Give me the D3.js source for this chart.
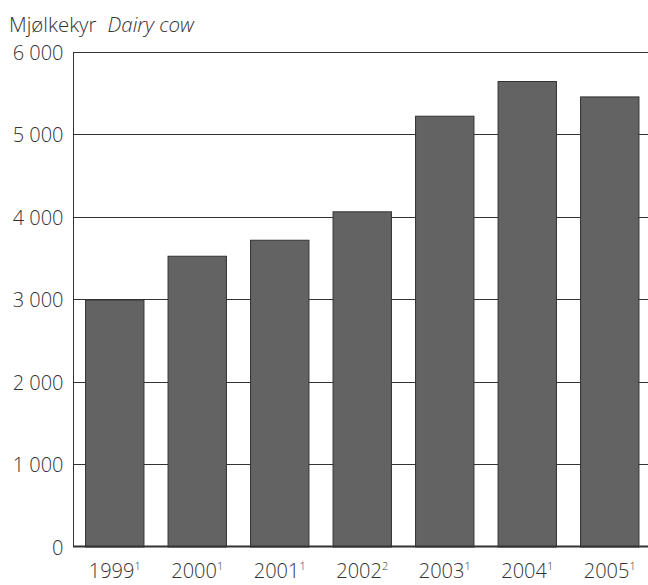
<!DOCTYPE html>
<html><head><meta charset="utf-8">
<script src="https://cdn.jsdelivr.net/npm/d3@7"></script>
<style>body{margin:0;background:#fff}svg{display:block}text{font-family:"Open Sans",sans-serif;fill:#333;font-weight:300}</style>
</head><body><svg id="c" width="648" height="585"></svg>
<script>
const years = ["1999","2000","2001","2002","2003","2004","2005"];
const notes = ["1","1","1","2","1","1","1"];
const values = [2995, 3528, 3722, 4067, 5227, 5648, 5461];
const yTicks = [0,1000,2000,3000,4000,5000,6000];
const titleNo = "Mjølkekyr";
const titleEn = "Dairy cow";

const svg = d3.select("#c");
const pL = 73.5, pR = 651, pT = 52, pB = 546.5;
const x = d3.scaleBand().domain(years).range([pL, pR]).paddingInner(0.28).paddingOuter(0.14);
const y = d3.scaleLinear().domain([0, 6000]).range([pB, pT]);
const fmt = v => d3.format(",")(v).replace(/,/g, " ");

// gridlines
svg.append("g").selectAll("line").data(yTicks.filter(d => d > 0)).join("line")
  .attr("x1", pL).attr("x2", pR)
  .attr("y1", d => Math.round(y(d)) + 0.5).attr("y2", d => Math.round(y(d)) + 0.5)
  .attr("stroke", "#333").attr("stroke-width", 1);

// bars
svg.append("g").selectAll("rect").data(values).join("rect")
  .attr("x", (d, i) => x(years[i]) + 0.5)
  .attr("width", x.bandwidth() - 1)
  .attr("y", d => y(d) + 0.5)
  .attr("height", d => pB - y(d))
  .attr("fill", "#636363").attr("stroke", "#333").attr("stroke-width", 1);

// axes lines
svg.append("line").attr("x1", pL).attr("x2", pL).attr("y1", pT).attr("y2", pB)
  .attr("stroke", "#333").attr("stroke-width", 1);
svg.append("line").attr("x1", pL - 0.5).attr("x2", pR).attr("y1", pB).attr("y2", pB)
  .attr("stroke", "#333").attr("stroke-width", 2);

// y tick labels
svg.append("g").selectAll("text").data(yTicks).join("text")
  .attr("x", pL - 10).attr("y", d => y(d) + 8)
  .attr("text-anchor", "end").attr("font-size", 20)
  .text(d => fmt(d));

// x labels
const xl = svg.append("g").selectAll("text").data(years).join("text")
  .attr("x", d => x(d) + x.bandwidth() / 2).attr("y", 578)
  .attr("text-anchor", "middle").attr("font-size", 20);
xl.append("tspan").text(d => d);
xl.append("tspan").attr("font-size", 11).attr("dy", -8).text((d, i) => notes[i]);

// title
const t = svg.append("text").attr("x", 9).attr("y", 32).attr("font-size", 20.5);
t.append("tspan").text(titleNo);
t.append("tspan").attr("dx", 11).attr("font-style", "italic").text(titleEn);
</script></body></html>
